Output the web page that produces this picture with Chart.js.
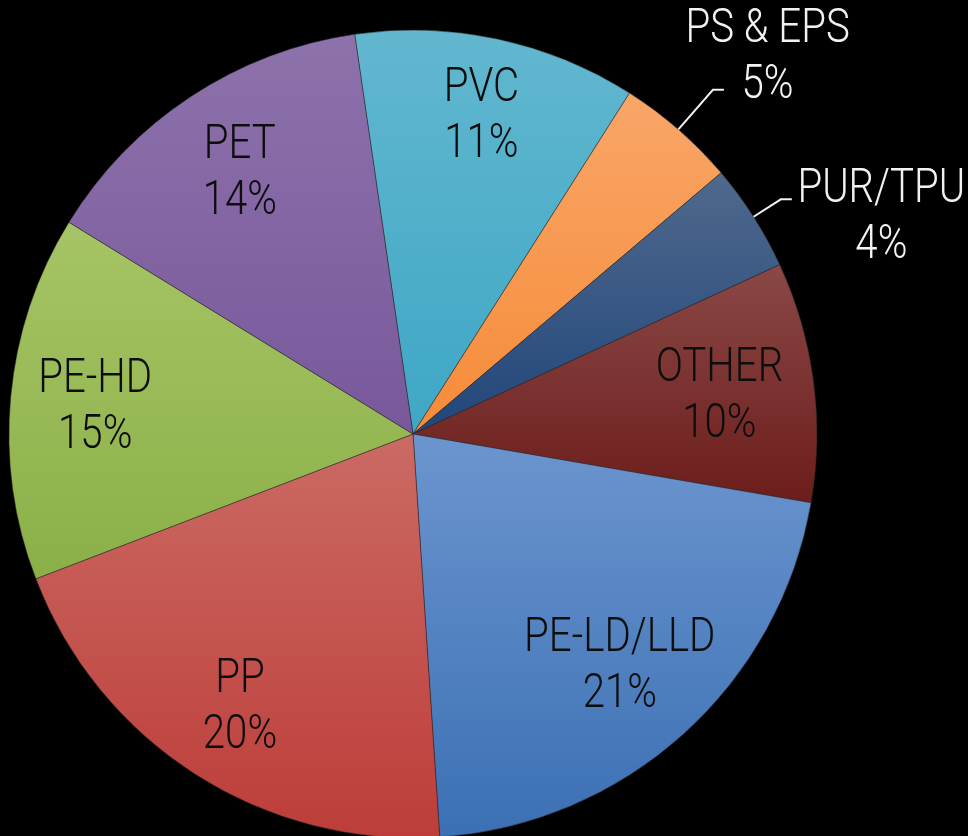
<!DOCTYPE html>
<html>
<head>
<meta charset="utf-8">
<script src="https://cdn.jsdelivr.net/npm/chart.js@4.4.0/dist/chart.umd.min.js"></script>
<style>
  html, body { margin: 0; padding: 0; background: #000; }
  #wrap { width: 968px; height: 836px; position: relative; }
</style>
</head>
<body>
<div id="wrap"><canvas id="pie"></canvas></div>
<script>
// data, clockwise from the top
const categories = ['PVC', 'PS & EPS', 'PUR/TPU', 'OTHER', 'PE-LD/LLD', 'PP', 'PE-HD', 'PET'];
const shares = [11.3, 4.8, 4.3, 9.6, 21.2, 20.2, 14.6, 13.9];
const topColors = ['#62b7cf', '#f9a668', '#50698d', '#8a4846', '#6c95ce', '#cb6a64', '#a6c465', '#8d72ab'];
const bottomColors = ['#3ea7c5', '#f68b38', '#21467a', '#6c1d1b', '#3b70b4', '#bd3d39', '#8bb048', '#78589b'];

const ROT = -8.3;
const RADIUS = 404;

// label placement (fraction of radius), outside ones get a leader line
const labelDist = [0.81, 1.285, 1.28, 0.765, 0.765, 0.795, 0.79, 0.78];
const labelTurn = [0, 0.035, 0.13, 0, 0, 0, 0, 0];
const elbowDist = { 1: 1.13, 2: 1.08 };

function sliceFill(ctx) {
  const i = ctx.dataIndex;
  const area = ctx.chart.chartArea;
  if (!area) return bottomColors[i];
  const cx = (area.left + area.right) / 2, cy = (area.top + area.bottom) / 2;
  const total = shares.reduce((a, b) => a + b, 0);
  let before = 0;
  for (let k = 0; k < i; k++) before += shares[k];
  const a0 = -Math.PI / 2 + ROT * Math.PI / 180 + before / total * 2 * Math.PI;
  const a1 = a0 + shares[i] / total * 2 * Math.PI;
  const ys = [cy, cy + RADIUS * Math.sin(a0), cy + RADIUS * Math.sin(a1)];
  [Math.PI / 2, 3 * Math.PI / 2, -Math.PI / 2].forEach(t => { if (t > a0 && t < a1) ys.push(cy + RADIUS * Math.sin(t)); });
  const y0 = Math.min(...ys), y1 = Math.max(...ys);
  const g = ctx.chart.ctx.createLinearGradient(0, y0, 0, y1);
  g.addColorStop(0, topColors[i]);
  g.addColorStop(1, bottomColors[i]);
  return g;
}

const labelPlugin = {
  id: 'sliceLabels',
  afterDatasetsDraw(chart) {
    const c = chart.ctx;
    const meta = chart.getDatasetMeta(0);
    const total = shares.reduce((a, b) => a + b, 0);
    c.save();
    c.font = '300 49px Roboto';
    c.textAlign = 'center';
    c.textBaseline = 'middle';
    meta.data.forEach((arc, i) => {
      const p = arc.getProps(['x', 'y', 'startAngle', 'endAngle', 'outerRadius'], true);
      const mid = (p.startAngle + p.endAngle) / 2;
      const lines = [categories[i], Math.round(shares[i] / total * 100) + '%'];
      if (elbowDist[i]) {
        const sx = p.x + p.outerRadius * Math.cos(mid), sy = p.y + p.outerRadius * Math.sin(mid);
        const ex = p.x + p.outerRadius * elbowDist[i] * Math.cos(mid), ey = p.y + p.outerRadius * elbowDist[i] * Math.sin(mid);
        c.strokeStyle = '#f2f2f2';
        c.lineWidth = 2;
        c.beginPath();
        c.moveTo(sx, sy);
        c.lineTo(ex, ey);
        c.lineTo(ex + 11, ey);
        c.stroke();
        c.fillStyle = '#f2f2f2';
      } else {
        c.fillStyle = '#0d0d0d';
      }
      const a = mid + labelTurn[i];
      const lx = p.x + p.outerRadius * labelDist[i] * Math.cos(a);
      const ly = p.y + p.outerRadius * labelDist[i] * Math.sin(a) + 3;
      lines.forEach((t, k) => {
        c.save();
        c.translate(lx, ly + (k - 0.5) * 56);
        c.scale(0.82, 1);
        c.fillText(t, 0, 0);
        c.restore();
      });
    });
    c.restore();
  }
};

const chart = new Chart(document.getElementById('pie'), {
  type: 'pie',
  data: {
    labels: categories,
    datasets: [{
      data: shares,
      backgroundColor: sliceFill,
      borderColor: 'rgba(40,40,40,0.5)',
      borderWidth: 1
    }]
  },
  options: {
    responsive: true,
    maintainAspectRatio: false,
    animation: false,
    rotation: ROT,
    radius: RADIUS,
    layout: { padding: { left: 9, right: 151, top: 32, bottom: 0 } },
    plugins: { legend: { display: false }, tooltip: { enabled: false } }
  },
  plugins: [labelPlugin]
});
</script>
</body>
</html>
